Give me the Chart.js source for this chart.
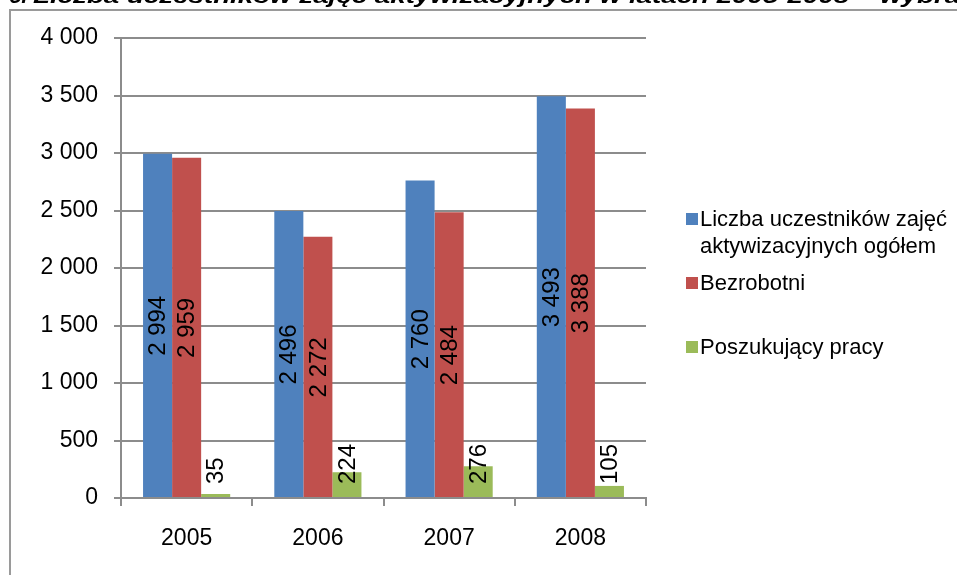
<!DOCTYPE html>
<html>
<head>
<meta charset="utf-8">
<script src="https://cdn.jsdelivr.net/npm/chart.js@4"></script>
<style>
html,body{margin:0;padding:0;background:#fff;}
#wrap{position:relative;width:957px;height:575px;overflow:hidden;}
canvas{display:block;}
</style>
</head>
<body>
<div id="wrap"><canvas id="c" width="957" height="575"></canvas></div>
<script>
// ---- data ----
const categories = ['2005', '2006', '2007', '2008'];
const totalParticipants = [2994, 2496, 2760, 3493];
const unemployed = [2959, 2272, 2484, 3388];
const jobSeekers = [35, 224, 276, 105];
const seriesNames = ['Liczba uczestników zajęć aktywizacyjnych ogółem', 'Bezrobotni', 'Poszukujący pracy'];
const legendLines = [['Liczba uczestników zajęć', 'aktywizacyjnych ogółem'], ['Bezrobotni'], ['Poszukujący pracy']];
const titlePrefix = '5. ';
const titleText = 'Liczba uczestników zajęć aktywizacyjnych w latach 2005-2008 – wybrane kategorie';

const FONT = '"Liberation Sans", Arial, sans-serif';
const fmt = v => String(v).replace(/\B(?=(\d{3})+(?!\d))/g, ' ');

const framePlugin = {
  id: 'frame',
  beforeDraw(chart) {
    const ctx = chart.ctx;
    ctx.save();
    ctx.strokeStyle = '#9a9a9a';
    ctx.lineWidth = 2;
    ctx.beginPath();
    ctx.moveTo(10, 575);
    ctx.lineTo(10, 10);
    ctx.lineTo(957, 10);
    ctx.stroke();
    // cut-off title at the very top
    ctx.fillStyle = '#000';
    ctx.font = 'italic bold 21px ' + FONT;
    ctx.textBaseline = 'alphabetic';
    ctx.textAlign = 'right';
    ctx.fillText(titlePrefix, 33, 3);
    ctx.textAlign = 'left';
    const w = ctx.measureText(titleText.split(' – ')[0] + ' – ').width;
    const sx = 847 / w;
    ctx.translate(33, 3);
    ctx.scale(sx, 1);
    ctx.fillText(titleText, 0, 0);
    ctx.restore();
  }
};

const labelPlugin = {
  id: 'barLabels',
  afterDatasetsDraw(chart) {
    const ctx = chart.ctx;
    const y0 = chart.scales.y.getPixelForValue(0);
    ctx.save();
    ctx.font = '24px ' + FONT;
    ctx.fillStyle = '#000';
    chart.data.datasets.forEach((ds, di) => {
      const meta = chart.getDatasetMeta(di);
      meta.data.forEach((bar, i) => {
        const txt = fmt(ds.data[i]);
        ctx.save();
        if (ds.labelPos === 'base') {
          ctx.translate(bar.x, y0 - 14);
          ctx.rotate(-Math.PI / 2);
          ctx.textAlign = 'left';
          ctx.textBaseline = 'middle';
          ctx.fillText(txt, 0, 1);
        } else {
          ctx.translate(bar.x, (bar.y + y0) / 2);
          ctx.rotate(-Math.PI / 2);
          ctx.textAlign = 'center';
          ctx.textBaseline = 'middle';
          ctx.fillText(txt, 0, 1);
        }
        ctx.restore();
      });
    });
    ctx.restore();
  }
};

const legendPlugin = {
  id: 'customLegend',
  afterDraw(chart) {
    const ctx = chart.ctx;
    const ys = [219, 283, 347];
    ctx.save();
    ctx.font = '22px ' + FONT;
    ctx.textBaseline = 'middle';
    ctx.textAlign = 'left';
    chart.data.datasets.forEach((ds, di) => {
      const y = ys[di];
      ctx.fillStyle = ds.backgroundColor;
      ctx.fillRect(686, y - 6, 12, 12);
      ctx.fillStyle = '#000';
      legendLines[di].forEach((line, li) => {
        ctx.fillText(line, 700, y + 1 + li * 27);
      });
    });
    ctx.restore();
  }
};

new Chart(document.getElementById('c'), {
  type: 'bar',
  data: {
    labels: categories,
    datasets: [
      { label: seriesNames[0], data: totalParticipants, backgroundColor: '#4F81BD', labelPos: 'center' },
      { label: seriesNames[1], data: unemployed, backgroundColor: '#C0504D', labelPos: 'center' },
      { label: seriesNames[2], data: jobSeekers, backgroundColor: '#9BBB59', labelPos: 'base' }
    ]
  },
  options: {
    responsive: false,
    animation: false,
    devicePixelRatio: 1,
    layout: { padding: { left: 0, right: 311, top: 38, bottom: 0 } },
    datasets: { bar: { categoryPercentage: 0.664, barPercentage: 1.0, borderWidth: 0 } },
    plugins: { legend: { display: false }, tooltip: { enabled: false }, title: { display: false } },
    scales: {
      x: {
        afterFit(s) { s.height = 77; },
        grid: { offset: true, drawOnChartArea: false, color: '#8c8c8c', lineWidth: 2, tickLength: 8 },
        border: { color: '#8c8c8c', width: 2 },
        ticks: { color: '#000', font: { family: FONT, size: 23 }, padding: 19 }
      },
      y: {
        min: 0, max: 4000,
        afterFit(s) { s.width = 121; },
        grid: { color: '#8c8c8c', lineWidth: 2, tickLength: 7 },
        border: { color: '#8c8c8c', width: 2 },
        ticks: { stepSize: 500, color: '#000', font: { family: FONT, size: 23 }, padding: 16, callback: v => fmt(v) }
      }
    }
  },
  plugins: [framePlugin, labelPlugin, legendPlugin]
});
</script>
</body>
</html>
